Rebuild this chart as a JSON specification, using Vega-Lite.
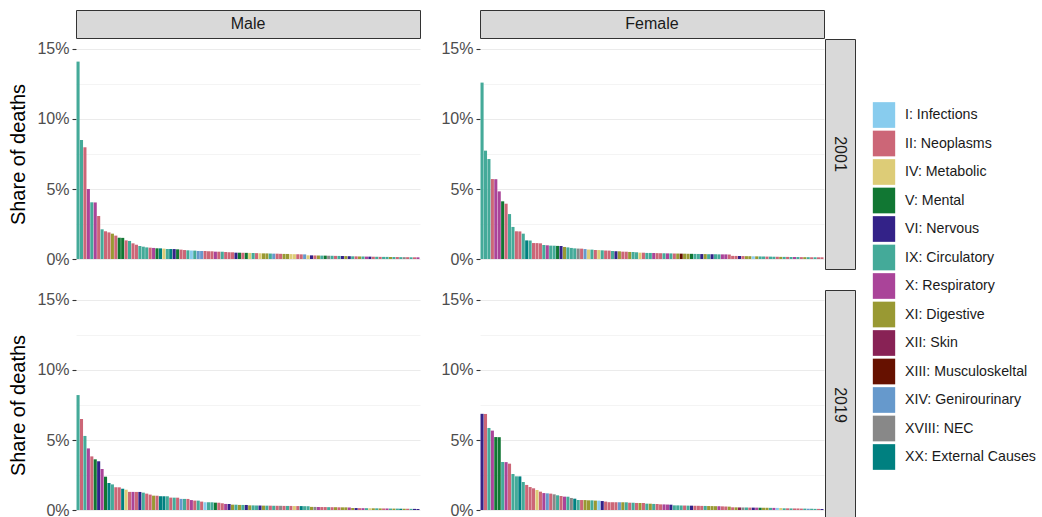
{
  "$schema": "https://vega.github.io/schema/vega-lite/v6.json",
  "autosize": {"type": "pad"},
  "padding": {"left": 8, "top": 9, "right": 0, "bottom": 0},
  "background": "white",
  "columns": 4,
  "spacing": 1,
  "bounds": "flush",
  "align": "each",
  "config": {
    "font": "Liberation Sans",
    "view": {"stroke": null},
    "legend": {
      "title": null,
      "orient": "none",
      "legendX": 795,
      "legendY": 92,
      "symbolType": "M-0.87,-1H0.87V1H-0.87Z",
      "symbolSize": 660,
      "symbolStrokeWidth": 0,
      "symbolOpacity": 1,
      "labelFontSize": 14.2,
      "labelColor": "#1A1A1A",
      "labelOffset": 8,
      "rowPadding": 2.5
    }
  },
  "datasets": {
    "chapters": [
      {"code": "I", "label": "I: Infections"},
      {"code": "II", "label": "II: Neoplasms"},
      {"code": "IV", "label": "IV: Metabolic"},
      {"code": "V", "label": "V: Mental"},
      {"code": "VI", "label": "VI: Nervous"},
      {"code": "IX", "label": "IX: Circulatory"},
      {"code": "X", "label": "X: Respiratory"},
      {"code": "XI", "label": "XI: Digestive"},
      {"code": "XII", "label": "XII: Skin"},
      {"code": "XIII", "label": "XIII: Musculoskeltal"},
      {"code": "XIV", "label": "XIV: Genirourinary"},
      {"code": "XVIII", "label": "XVIII: NEC"},
      {"code": "XX", "label": "XX: External Causes"}
    ],
    "m2001": [
      {"cause": 1, "chapter": "IX", "share": 14.1}, {"cause": 2, "chapter": "IX", "share": 8.5}, {"cause": 3, "chapter": "II", "share": 7.98}, {"cause": 4, "chapter": "X", "share": 5.0}, {"cause": 5, "chapter": "IX", "share": 4.05},
      {"cause": 6, "chapter": "X", "share": 4.04}, {"cause": 7, "chapter": "II", "share": 3.07}, {"cause": 8, "chapter": "IX", "share": 2.12}, {"cause": 9, "chapter": "II", "share": 1.98}, {"cause": 10, "chapter": "II", "share": 1.9},
      {"cause": 11, "chapter": "XI", "share": 1.81}, {"cause": 12, "chapter": "II", "share": 1.67}, {"cause": 13, "chapter": "V", "share": 1.52}, {"cause": 14, "chapter": "V", "share": 1.51}, {"cause": 15, "chapter": "II", "share": 1.33},
      {"cause": 16, "chapter": "IX", "share": 1.29}, {"cause": 17, "chapter": "II", "share": 1.12}, {"cause": 18, "chapter": "II", "share": 1.02}, {"cause": 19, "chapter": "IX", "share": 0.93}, {"cause": 20, "chapter": "IX", "share": 0.88},
      {"cause": 21, "chapter": "IX", "share": 0.83}, {"cause": 22, "chapter": "II", "share": 0.81}, {"cause": 23, "chapter": "X", "share": 0.79}, {"cause": 24, "chapter": "V", "share": 0.765}, {"cause": 25, "chapter": "XX", "share": 0.76},
      {"cause": 26, "chapter": "IV", "share": 0.74}, {"cause": 27, "chapter": "IX", "share": 0.715}, {"cause": 28, "chapter": "XX", "share": 0.712}, {"cause": 29, "chapter": "VI", "share": 0.71}, {"cause": 30, "chapter": "V", "share": 0.69},
      {"cause": 31, "chapter": "II", "share": 0.67}, {"cause": 32, "chapter": "II", "share": 0.64}, {"cause": 33, "chapter": "IX", "share": 0.62}, {"cause": 34, "chapter": "I", "share": 0.605}, {"cause": 35, "chapter": "IX", "share": 0.6},
      {"cause": 36, "chapter": "XIV", "share": 0.575}, {"cause": 37, "chapter": "XIV", "share": 0.573}, {"cause": 38, "chapter": "II", "share": 0.57}, {"cause": 39, "chapter": "II", "share": 0.553}, {"cause": 40, "chapter": "II", "share": 0.55},
      {"cause": 41, "chapter": "X", "share": 0.525}, {"cause": 42, "chapter": "II", "share": 0.522}, {"cause": 43, "chapter": "IX", "share": 0.52}, {"cause": 44, "chapter": "II", "share": 0.5}, {"cause": 45, "chapter": "II", "share": 0.483},
      {"cause": 46, "chapter": "II", "share": 0.48}, {"cause": 47, "chapter": "VI", "share": 0.453}, {"cause": 48, "chapter": "V", "share": 0.45}, {"cause": 49, "chapter": "II", "share": 0.443}, {"cause": 50, "chapter": "V", "share": 0.44},
      {"cause": 51, "chapter": "IV", "share": 0.433}, {"cause": 52, "chapter": "IX", "share": 0.43}, {"cause": 53, "chapter": "II", "share": 0.42}, {"cause": 54, "chapter": "IV", "share": 0.41}, {"cause": 55, "chapter": "XI", "share": 0.403},
      {"cause": 56, "chapter": "XI", "share": 0.4}, {"cause": 57, "chapter": "IX", "share": 0.39}, {"cause": 58, "chapter": "XIV", "share": 0.383}, {"cause": 59, "chapter": "II", "share": 0.38}, {"cause": 60, "chapter": "II", "share": 0.37},
      {"cause": 61, "chapter": "XI", "share": 0.363}, {"cause": 62, "chapter": "XI", "share": 0.36}, {"cause": 63, "chapter": "IV", "share": 0.35}, {"cause": 64, "chapter": "IV", "share": 0.343}, {"cause": 65, "chapter": "II", "share": 0.34},
      {"cause": 66, "chapter": "II", "share": 0.333}, {"cause": 67, "chapter": "XIV", "share": 0.33}, {"cause": 68, "chapter": "IV", "share": 0.263}, {"cause": 69, "chapter": "VI", "share": 0.26}, {"cause": 70, "chapter": "II", "share": 0.253},
      {"cause": 71, "chapter": "XI", "share": 0.25}, {"cause": 72, "chapter": "IX", "share": 0.243}, {"cause": 73, "chapter": "V", "share": 0.24}, {"cause": 74, "chapter": "XVIII", "share": 0.233}, {"cause": 75, "chapter": "IX", "share": 0.23},
      {"cause": 76, "chapter": "II", "share": 0.223}, {"cause": 77, "chapter": "IX", "share": 0.22}, {"cause": 78, "chapter": "VI", "share": 0.213}, {"cause": 79, "chapter": "XI", "share": 0.21}, {"cause": 80, "chapter": "VI", "share": 0.2},
      {"cause": 81, "chapter": "IX", "share": 0.193}, {"cause": 82, "chapter": "II", "share": 0.19}, {"cause": 83, "chapter": "XI", "share": 0.183}, {"cause": 84, "chapter": "IX", "share": 0.18}, {"cause": 85, "chapter": "X", "share": 0.173},
      {"cause": 86, "chapter": "VI", "share": 0.17}, {"cause": 87, "chapter": "II", "share": 0.163}, {"cause": 88, "chapter": "IX", "share": 0.16}, {"cause": 89, "chapter": "II", "share": 0.153}, {"cause": 90, "chapter": "IX", "share": 0.151},
      {"cause": 91, "chapter": "IX", "share": 0.15}, {"cause": 92, "chapter": "XI", "share": 0.143}, {"cause": 93, "chapter": "IX", "share": 0.141}, {"cause": 94, "chapter": "II", "share": 0.14}, {"cause": 95, "chapter": "IX", "share": 0.133},
      {"cause": 96, "chapter": "XVIII", "share": 0.131}, {"cause": 97, "chapter": "II", "share": 0.13}, {"cause": 98, "chapter": "IX", "share": 0.122}, {"cause": 99, "chapter": "II", "share": 0.121}, {"cause": 100, "chapter": "X", "share": 0.12}
    ],
    "f2001": [
      {"cause": 1, "chapter": "IX", "share": 12.6}, {"cause": 2, "chapter": "IX", "share": 7.74}, {"cause": 3, "chapter": "IX", "share": 7.14}, {"cause": 4, "chapter": "II", "share": 5.71}, {"cause": 5, "chapter": "X", "share": 5.7},
      {"cause": 6, "chapter": "X", "share": 4.83}, {"cause": 7, "chapter": "V", "share": 4.12}, {"cause": 8, "chapter": "II", "share": 3.95}, {"cause": 9, "chapter": "IX", "share": 3.21}, {"cause": 10, "chapter": "IX", "share": 2.29},
      {"cause": 11, "chapter": "II", "share": 1.98}, {"cause": 12, "chapter": "II", "share": 1.97}, {"cause": 13, "chapter": "IX", "share": 1.81}, {"cause": 14, "chapter": "XX", "share": 1.33}, {"cause": 15, "chapter": "IX", "share": 1.32},
      {"cause": 16, "chapter": "II", "share": 1.14}, {"cause": 17, "chapter": "II", "share": 1.135}, {"cause": 18, "chapter": "II", "share": 1.12}, {"cause": 19, "chapter": "IX", "share": 1.0}, {"cause": 20, "chapter": "X", "share": 0.98},
      {"cause": 21, "chapter": "IX", "share": 0.955}, {"cause": 22, "chapter": "IX", "share": 0.95}, {"cause": 23, "chapter": "V", "share": 0.935}, {"cause": 24, "chapter": "VI", "share": 0.93}, {"cause": 25, "chapter": "XI", "share": 0.86},
      {"cause": 26, "chapter": "IX", "share": 0.83}, {"cause": 27, "chapter": "IX", "share": 0.79}, {"cause": 28, "chapter": "IX", "share": 0.76}, {"cause": 29, "chapter": "XVIII", "share": 0.745}, {"cause": 30, "chapter": "II", "share": 0.74},
      {"cause": 31, "chapter": "XIV", "share": 0.71}, {"cause": 32, "chapter": "IV", "share": 0.675}, {"cause": 33, "chapter": "IX", "share": 0.67}, {"cause": 34, "chapter": "II", "share": 0.645}, {"cause": 35, "chapter": "IV", "share": 0.64},
      {"cause": 36, "chapter": "IX", "share": 0.62}, {"cause": 37, "chapter": "II", "share": 0.605}, {"cause": 38, "chapter": "II", "share": 0.6}, {"cause": 39, "chapter": "IX", "share": 0.57}, {"cause": 40, "chapter": "VI", "share": 0.555},
      {"cause": 41, "chapter": "XI", "share": 0.55}, {"cause": 42, "chapter": "II", "share": 0.525}, {"cause": 43, "chapter": "II", "share": 0.52}, {"cause": 44, "chapter": "XI", "share": 0.503}, {"cause": 45, "chapter": "IX", "share": 0.5},
      {"cause": 46, "chapter": "IX", "share": 0.48}, {"cause": 47, "chapter": "IV", "share": 0.453}, {"cause": 48, "chapter": "II", "share": 0.45}, {"cause": 49, "chapter": "IX", "share": 0.434}, {"cause": 50, "chapter": "IX", "share": 0.432},
      {"cause": 51, "chapter": "X", "share": 0.43}, {"cause": 52, "chapter": "II", "share": 0.42}, {"cause": 53, "chapter": "II", "share": 0.413}, {"cause": 54, "chapter": "IX", "share": 0.41}, {"cause": 55, "chapter": "X", "share": 0.403},
      {"cause": 56, "chapter": "IX", "share": 0.4}, {"cause": 57, "chapter": "II", "share": 0.393}, {"cause": 58, "chapter": "XI", "share": 0.39}, {"cause": 59, "chapter": "XIII", "share": 0.383}, {"cause": 60, "chapter": "XI", "share": 0.38},
      {"cause": 61, "chapter": "XI", "share": 0.373}, {"cause": 62, "chapter": "V", "share": 0.37}, {"cause": 63, "chapter": "IX", "share": 0.363}, {"cause": 64, "chapter": "IX", "share": 0.36}, {"cause": 65, "chapter": "VI", "share": 0.353},
      {"cause": 66, "chapter": "XI", "share": 0.35}, {"cause": 67, "chapter": "IX", "share": 0.343}, {"cause": 68, "chapter": "VI", "share": 0.341}, {"cause": 69, "chapter": "IX", "share": 0.34}, {"cause": 70, "chapter": "IX", "share": 0.333},
      {"cause": 71, "chapter": "X", "share": 0.331}, {"cause": 72, "chapter": "X", "share": 0.33}, {"cause": 73, "chapter": "II", "share": 0.32}, {"cause": 74, "chapter": "II", "share": 0.223}, {"cause": 75, "chapter": "II", "share": 0.22},
      {"cause": 76, "chapter": "VI", "share": 0.213}, {"cause": 77, "chapter": "II", "share": 0.21}, {"cause": 78, "chapter": "XI", "share": 0.203}, {"cause": 79, "chapter": "XI", "share": 0.2}, {"cause": 80, "chapter": "I", "share": 0.193},
      {"cause": 81, "chapter": "XI", "share": 0.19}, {"cause": 82, "chapter": "IX", "share": 0.183}, {"cause": 83, "chapter": "IX", "share": 0.18}, {"cause": 84, "chapter": "II", "share": 0.173}, {"cause": 85, "chapter": "IX", "share": 0.17},
      {"cause": 86, "chapter": "IX", "share": 0.163}, {"cause": 87, "chapter": "II", "share": 0.16}, {"cause": 88, "chapter": "XI", "share": 0.153}, {"cause": 89, "chapter": "IX", "share": 0.151}, {"cause": 90, "chapter": "II", "share": 0.15},
      {"cause": 91, "chapter": "IX", "share": 0.143}, {"cause": 92, "chapter": "X", "share": 0.141}, {"cause": 93, "chapter": "IX", "share": 0.14}, {"cause": 94, "chapter": "II", "share": 0.133}, {"cause": 95, "chapter": "XI", "share": 0.131},
      {"cause": 96, "chapter": "IX", "share": 0.13}, {"cause": 97, "chapter": "II", "share": 0.123}, {"cause": 98, "chapter": "IX", "share": 0.122}, {"cause": 99, "chapter": "II", "share": 0.121}, {"cause": 100, "chapter": "II", "share": 0.12}
    ],
    "m2019": [
      {"cause": 1, "chapter": "IX", "share": 8.21}, {"cause": 2, "chapter": "II", "share": 6.5}, {"cause": 3, "chapter": "IX", "share": 5.29}, {"cause": 4, "chapter": "X", "share": 4.4}, {"cause": 5, "chapter": "II", "share": 3.83},
      {"cause": 6, "chapter": "V", "share": 3.62}, {"cause": 7, "chapter": "VI", "share": 3.48}, {"cause": 8, "chapter": "X", "share": 2.93}, {"cause": 9, "chapter": "V", "share": 2.38}, {"cause": 10, "chapter": "XX", "share": 1.93},
      {"cause": 11, "chapter": "IX", "share": 1.83}, {"cause": 12, "chapter": "II", "share": 1.625}, {"cause": 13, "chapter": "II", "share": 1.62}, {"cause": 14, "chapter": "XX", "share": 1.52}, {"cause": 15, "chapter": "IV", "share": 1.45},
      {"cause": 16, "chapter": "II", "share": 1.295}, {"cause": 17, "chapter": "X", "share": 1.293}, {"cause": 18, "chapter": "II", "share": 1.291}, {"cause": 19, "chapter": "VI", "share": 1.29}, {"cause": 20, "chapter": "IX", "share": 1.24},
      {"cause": 21, "chapter": "II", "share": 1.17}, {"cause": 22, "chapter": "II", "share": 1.1}, {"cause": 23, "chapter": "XI", "share": 1.025}, {"cause": 24, "chapter": "II", "share": 1.02}, {"cause": 25, "chapter": "XX", "share": 0.985},
      {"cause": 26, "chapter": "XX", "share": 0.982}, {"cause": 27, "chapter": "IX", "share": 0.98}, {"cause": 28, "chapter": "II", "share": 0.885}, {"cause": 29, "chapter": "IX", "share": 0.882}, {"cause": 30, "chapter": "II", "share": 0.88},
      {"cause": 31, "chapter": "XIV", "share": 0.795}, {"cause": 32, "chapter": "IX", "share": 0.792}, {"cause": 33, "chapter": "II", "share": 0.79}, {"cause": 34, "chapter": "X", "share": 0.71}, {"cause": 35, "chapter": "II", "share": 0.672},
      {"cause": 36, "chapter": "IX", "share": 0.67}, {"cause": 37, "chapter": "II", "share": 0.6}, {"cause": 38, "chapter": "I", "share": 0.555}, {"cause": 39, "chapter": "IX", "share": 0.553}, {"cause": 40, "chapter": "IX", "share": 0.551},
      {"cause": 41, "chapter": "V", "share": 0.525}, {"cause": 42, "chapter": "II", "share": 0.52}, {"cause": 43, "chapter": "II", "share": 0.48}, {"cause": 44, "chapter": "X", "share": 0.433}, {"cause": 45, "chapter": "VI", "share": 0.43},
      {"cause": 46, "chapter": "XI", "share": 0.383}, {"cause": 47, "chapter": "IX", "share": 0.38}, {"cause": 48, "chapter": "XI", "share": 0.363}, {"cause": 49, "chapter": "IX", "share": 0.361}, {"cause": 50, "chapter": "VI", "share": 0.36},
      {"cause": 51, "chapter": "XI", "share": 0.333}, {"cause": 52, "chapter": "IX", "share": 0.33}, {"cause": 53, "chapter": "IX", "share": 0.323}, {"cause": 54, "chapter": "VI", "share": 0.32}, {"cause": 55, "chapter": "XI", "share": 0.313},
      {"cause": 56, "chapter": "IX", "share": 0.311}, {"cause": 57, "chapter": "II", "share": 0.31}, {"cause": 58, "chapter": "IX", "share": 0.303}, {"cause": 59, "chapter": "II", "share": 0.301}, {"cause": 60, "chapter": "XVIII", "share": 0.3},
      {"cause": 61, "chapter": "II", "share": 0.293}, {"cause": 62, "chapter": "IX", "share": 0.291}, {"cause": 63, "chapter": "II", "share": 0.29}, {"cause": 64, "chapter": "IV", "share": 0.283}, {"cause": 65, "chapter": "II", "share": 0.281},
      {"cause": 66, "chapter": "XX", "share": 0.28}, {"cause": 67, "chapter": "IX", "share": 0.273}, {"cause": 68, "chapter": "IX", "share": 0.27}, {"cause": 69, "chapter": "XI", "share": 0.223}, {"cause": 70, "chapter": "XVIII", "share": 0.22},
      {"cause": 71, "chapter": "X", "share": 0.213}, {"cause": 72, "chapter": "II", "share": 0.211}, {"cause": 73, "chapter": "II", "share": 0.21}, {"cause": 74, "chapter": "IX", "share": 0.203}, {"cause": 75, "chapter": "II", "share": 0.201},
      {"cause": 76, "chapter": "XI", "share": 0.2}, {"cause": 77, "chapter": "II", "share": 0.193}, {"cause": 78, "chapter": "XI", "share": 0.191}, {"cause": 79, "chapter": "XI", "share": 0.19}, {"cause": 80, "chapter": "X", "share": 0.18},
      {"cause": 81, "chapter": "XI", "share": 0.143}, {"cause": 82, "chapter": "VI", "share": 0.14}, {"cause": 83, "chapter": "II", "share": 0.133}, {"cause": 84, "chapter": "X", "share": 0.131}, {"cause": 85, "chapter": "IX", "share": 0.13},
      {"cause": 86, "chapter": "IV", "share": 0.123}, {"cause": 87, "chapter": "XI", "share": 0.121}, {"cause": 88, "chapter": "IX", "share": 0.12}, {"cause": 89, "chapter": "XI", "share": 0.113}, {"cause": 90, "chapter": "II", "share": 0.111},
      {"cause": 91, "chapter": "X", "share": 0.11}, {"cause": 92, "chapter": "IX", "share": 0.103}, {"cause": 93, "chapter": "XI", "share": 0.101}, {"cause": 94, "chapter": "IX", "share": 0.1}, {"cause": 95, "chapter": "XX", "share": 0.093},
      {"cause": 96, "chapter": "XI", "share": 0.091}, {"cause": 97, "chapter": "II", "share": 0.09}, {"cause": 98, "chapter": "IX", "share": 0.082}, {"cause": 99, "chapter": "VI", "share": 0.08}, {"cause": 100, "chapter": "VI", "share": 0.07}
    ],
    "f2019": [
      {"cause": 1, "chapter": "VI", "share": 6.87}, {"cause": 2, "chapter": "II", "share": 6.86}, {"cause": 3, "chapter": "IX", "share": 5.86}, {"cause": 4, "chapter": "X", "share": 5.67}, {"cause": 5, "chapter": "V", "share": 5.21},
      {"cause": 6, "chapter": "V", "share": 5.2}, {"cause": 7, "chapter": "IX", "share": 3.43}, {"cause": 8, "chapter": "X", "share": 3.42}, {"cause": 9, "chapter": "II", "share": 3.31}, {"cause": 10, "chapter": "IX", "share": 2.57},
      {"cause": 11, "chapter": "IX", "share": 2.405}, {"cause": 12, "chapter": "XX", "share": 2.4}, {"cause": 13, "chapter": "IX", "share": 2.0}, {"cause": 14, "chapter": "II", "share": 1.79}, {"cause": 15, "chapter": "II", "share": 1.64},
      {"cause": 16, "chapter": "II", "share": 1.55}, {"cause": 17, "chapter": "IV", "share": 1.43}, {"cause": 18, "chapter": "II", "share": 1.31}, {"cause": 19, "chapter": "X", "share": 1.21}, {"cause": 20, "chapter": "XIV", "share": 1.19},
      {"cause": 21, "chapter": "II", "share": 1.17}, {"cause": 22, "chapter": "XVIII", "share": 1.12}, {"cause": 23, "chapter": "IX", "share": 1.05}, {"cause": 24, "chapter": "II", "share": 1.0}, {"cause": 25, "chapter": "X", "share": 0.955},
      {"cause": 26, "chapter": "IX", "share": 0.95}, {"cause": 27, "chapter": "XVIII", "share": 0.86}, {"cause": 28, "chapter": "XX", "share": 0.81}, {"cause": 29, "chapter": "IX", "share": 0.715}, {"cause": 30, "chapter": "II", "share": 0.712},
      {"cause": 31, "chapter": "XI", "share": 0.71}, {"cause": 32, "chapter": "XI", "share": 0.692}, {"cause": 33, "chapter": "IX", "share": 0.69}, {"cause": 34, "chapter": "XI", "share": 0.672}, {"cause": 35, "chapter": "I", "share": 0.67},
      {"cause": 36, "chapter": "VI", "share": 0.64}, {"cause": 37, "chapter": "II", "share": 0.6}, {"cause": 38, "chapter": "II", "share": 0.557}, {"cause": 39, "chapter": "II", "share": 0.556}, {"cause": 40, "chapter": "II", "share": 0.555},
      {"cause": 41, "chapter": "XIV", "share": 0.554}, {"cause": 42, "chapter": "XI", "share": 0.553}, {"cause": 43, "chapter": "IX", "share": 0.55}, {"cause": 44, "chapter": "II", "share": 0.522}, {"cause": 45, "chapter": "IX", "share": 0.52},
      {"cause": 46, "chapter": "II", "share": 0.503}, {"cause": 47, "chapter": "XI", "share": 0.501}, {"cause": 48, "chapter": "II", "share": 0.5}, {"cause": 49, "chapter": "IX", "share": 0.453}, {"cause": 50, "chapter": "XI", "share": 0.45},
      {"cause": 51, "chapter": "IX", "share": 0.433}, {"cause": 52, "chapter": "II", "share": 0.43}, {"cause": 53, "chapter": "II", "share": 0.403}, {"cause": 54, "chapter": "X", "share": 0.4}, {"cause": 55, "chapter": "X", "share": 0.39},
      {"cause": 56, "chapter": "VI", "share": 0.38}, {"cause": 57, "chapter": "IX", "share": 0.333}, {"cause": 58, "chapter": "IX", "share": 0.331}, {"cause": 59, "chapter": "IX", "share": 0.323}, {"cause": 60, "chapter": "II", "share": 0.32},
      {"cause": 61, "chapter": "IX", "share": 0.313}, {"cause": 62, "chapter": "VI", "share": 0.31}, {"cause": 63, "chapter": "II", "share": 0.303}, {"cause": 64, "chapter": "II", "share": 0.3}, {"cause": 65, "chapter": "II", "share": 0.293},
      {"cause": 66, "chapter": "IX", "share": 0.29}, {"cause": 67, "chapter": "XI", "share": 0.283}, {"cause": 68, "chapter": "XI", "share": 0.28}, {"cause": 69, "chapter": "XI", "share": 0.273}, {"cause": 70, "chapter": "X", "share": 0.27},
      {"cause": 71, "chapter": "II", "share": 0.26}, {"cause": 72, "chapter": "II", "share": 0.25}, {"cause": 73, "chapter": "XI", "share": 0.24}, {"cause": 74, "chapter": "II", "share": 0.193}, {"cause": 75, "chapter": "XI", "share": 0.19},
      {"cause": 76, "chapter": "XII", "share": 0.183}, {"cause": 77, "chapter": "XVIII", "share": 0.181}, {"cause": 78, "chapter": "IX", "share": 0.18}, {"cause": 79, "chapter": "II", "share": 0.173}, {"cause": 80, "chapter": "VI", "share": 0.171},
      {"cause": 81, "chapter": "X", "share": 0.17}, {"cause": 82, "chapter": "V", "share": 0.163}, {"cause": 83, "chapter": "XI", "share": 0.161}, {"cause": 84, "chapter": "XI", "share": 0.16}, {"cause": 85, "chapter": "IX", "share": 0.153},
      {"cause": 86, "chapter": "X", "share": 0.151}, {"cause": 87, "chapter": "I", "share": 0.15}, {"cause": 88, "chapter": "IV", "share": 0.14}, {"cause": 89, "chapter": "IX", "share": 0.12}, {"cause": 90, "chapter": "II", "share": 0.119},
      {"cause": 91, "chapter": "IX", "share": 0.113}, {"cause": 92, "chapter": "II", "share": 0.111}, {"cause": 93, "chapter": "II", "share": 0.11}, {"cause": 94, "chapter": "II", "share": 0.101}, {"cause": 95, "chapter": "IX", "share": 0.1},
      {"cause": 96, "chapter": "XIV", "share": 0.091}, {"cause": 97, "chapter": "IX", "share": 0.09}, {"cause": 98, "chapter": "IX", "share": 0.081}, {"cause": 99, "chapter": "II", "share": 0.08}, {"cause": 100, "chapter": "VI", "share": 0.07}
    ]
  },
  "concat": [
    {"width": 344, "height": 28, "view": {"fill": "#D9D9D9", "stroke": "#333333", "strokeWidth": 1},
     "data": {"values": [{"t": "Male"}]},
     "mark": {"type": "text", "fontSize": 16, "color": "#1A1A1A"},
     "encoding": {"text": {"field": "t", "type": "nominal"}}},
    {"width": 58, "height": 1, "data": {"values": [{}]}, "mark": {"type": "point", "opacity": 0, "size": 0, "strokeWidth": 0}, "encoding": {}},
    {"width": 344, "height": 28, "view": {"fill": "#D9D9D9", "stroke": "#333333", "strokeWidth": 1},
     "data": {"values": [{"t": "Female"}]},
     "mark": {"type": "text", "fontSize": 16, "color": "#1A1A1A"},
     "encoding": {"text": {"field": "t", "type": "nominal"}}},
    {"width": 30, "height": 1, "data": {"values": [{}]}, "mark": {"type": "point", "opacity": 0, "size": 0, "strokeWidth": 0}, "encoding": {}},

    {"width": 344, "height": 230, "data": {"name": "m2001"},
     "transform": [{"lookup": "chapter", "from": {"data": {"name": "chapters"}, "key": "code", "fields": ["label"]}}],
     "mark": {"type": "bar"},
     "encoding": {
       "x": {"field": "cause", "type": "nominal", "sort": "-y", "axis": null, "scale": {"paddingInner": 0.1, "paddingOuter": 0.15}},
       "y": {"field": "share", "type": "quantitative", "scale": {"domain": [-0.714, 15.714], "nice": false, "zero": false},
             "axis": {"values": [0, 2.5, 5, 7.5, 10, 12.5, 15], "labelExpr": "datum.value % 5 == 0 ? datum.value + '%' : ''",
                      "title": "Share of deaths", "titleFontSize": 20, "titleFontWeight": "normal", "titleColor": "#000000", "titlePadding": 8,
                      "grid": true, "gridColor": "#EBEBEB", "gridWidth": {"condition": {"test": "datum.value % 5 == 0", "value": 1.1}, "value": 0.55},
                      "tickOpacity": {"condition": {"test": "datum.value % 5 == 0", "value": 1}, "value": 0},
                      "domain": false, "tickColor": "#333333", "tickSize": 4, "tickWidth": 1.1,
                      "labelColor": "#4D4D4D", "labelFontSize": 16, "labelPadding": 3}},
       "color": {"field": "label", "type": "nominal",
                 "scale": {"domain": ["I: Infections", "II: Neoplasms", "IV: Metabolic", "V: Mental", "VI: Nervous", "IX: Circulatory", "X: Respiratory", "XI: Digestive", "XII: Skin", "XIII: Musculoskeltal", "XIV: Genirourinary", "XVIII: NEC", "XX: External Causes"],
                           "range": ["#88CCEE", "#CC6677", "#DDCC77", "#117733", "#332288", "#44AA99", "#AA4499", "#999933", "#882255", "#661100", "#6699CC", "#888888", "#008080"]}}
     }},
    {"width": 58, "height": 1, "data": {"values": [{}]}, "mark": {"type": "point", "opacity": 0, "size": 0, "strokeWidth": 0}, "encoding": {}},
    {"width": 344, "height": 230, "data": {"name": "f2001"},
     "transform": [{"lookup": "chapter", "from": {"data": {"name": "chapters"}, "key": "code", "fields": ["label"]}}],
     "mark": {"type": "bar"},
     "encoding": {
       "x": {"field": "cause", "type": "nominal", "sort": "-y", "axis": null, "scale": {"paddingInner": 0.1, "paddingOuter": 0.15}},
       "y": {"field": "share", "type": "quantitative", "scale": {"domain": [-0.714, 15.714], "nice": false, "zero": false},
             "axis": {"values": [0, 2.5, 5, 7.5, 10, 12.5, 15], "labelExpr": "datum.value % 5 == 0 ? datum.value + '%' : ''",
                      "title": null,
                      "grid": true, "gridColor": "#EBEBEB", "gridWidth": {"condition": {"test": "datum.value % 5 == 0", "value": 1.1}, "value": 0.55},
                      "tickOpacity": {"condition": {"test": "datum.value % 5 == 0", "value": 1}, "value": 0},
                      "domain": false, "tickColor": "#333333", "tickSize": 4, "tickWidth": 1.1,
                      "labelColor": "#4D4D4D", "labelFontSize": 16, "labelPadding": 3}},
       "color": {"field": "label", "type": "nominal"}
     }},
    {"width": 30, "height": 230, "view": {"fill": "#D9D9D9", "stroke": "#333333", "strokeWidth": 1},
     "data": {"values": [{"t": "2001"}]},
     "mark": {"type": "text", "fontSize": 16, "angle": 90, "color": "#1A1A1A"},
     "encoding": {"text": {"field": "t", "type": "nominal"}}},

    {"width": 1, "height": 19, "data": {"values": [{}]}, "mark": {"type": "point", "opacity": 0, "size": 0, "strokeWidth": 0}, "encoding": {}},
    {"width": 1, "height": 1, "data": {"values": [{}]}, "mark": {"type": "point", "opacity": 0, "size": 0, "strokeWidth": 0}, "encoding": {}},
    {"width": 1, "height": 1, "data": {"values": [{}]}, "mark": {"type": "point", "opacity": 0, "size": 0, "strokeWidth": 0}, "encoding": {}},
    {"width": 1, "height": 1, "data": {"values": [{}]}, "mark": {"type": "point", "opacity": 0, "size": 0, "strokeWidth": 0}, "encoding": {}},

    {"width": 344, "height": 230, "data": {"name": "m2019"},
     "transform": [{"lookup": "chapter", "from": {"data": {"name": "chapters"}, "key": "code", "fields": ["label"]}}],
     "mark": {"type": "bar"},
     "encoding": {
       "x": {"field": "cause", "type": "nominal", "sort": "-y", "axis": null, "scale": {"paddingInner": 0.1, "paddingOuter": 0.15}},
       "y": {"field": "share", "type": "quantitative", "scale": {"domain": [-0.714, 15.714], "nice": false, "zero": false},
             "axis": {"values": [0, 2.5, 5, 7.5, 10, 12.5, 15], "labelExpr": "datum.value % 5 == 0 ? datum.value + '%' : ''",
                      "title": "Share of deaths", "titleFontSize": 20, "titleFontWeight": "normal", "titleColor": "#000000", "titlePadding": 8,
                      "grid": true, "gridColor": "#EBEBEB", "gridWidth": {"condition": {"test": "datum.value % 5 == 0", "value": 1.1}, "value": 0.55},
                      "tickOpacity": {"condition": {"test": "datum.value % 5 == 0", "value": 1}, "value": 0},
                      "domain": false, "tickColor": "#333333", "tickSize": 4, "tickWidth": 1.1,
                      "labelColor": "#4D4D4D", "labelFontSize": 16, "labelPadding": 3}},
       "color": {"field": "label", "type": "nominal"}
     }},
    {"width": 58, "height": 1, "data": {"values": [{}]}, "mark": {"type": "point", "opacity": 0, "size": 0, "strokeWidth": 0}, "encoding": {}},
    {"width": 344, "height": 230, "data": {"name": "f2019"},
     "transform": [{"lookup": "chapter", "from": {"data": {"name": "chapters"}, "key": "code", "fields": ["label"]}}],
     "mark": {"type": "bar"},
     "encoding": {
       "x": {"field": "cause", "type": "nominal", "sort": "-y", "axis": null, "scale": {"paddingInner": 0.1, "paddingOuter": 0.15}},
       "y": {"field": "share", "type": "quantitative", "scale": {"domain": [-0.714, 15.714], "nice": false, "zero": false},
             "axis": {"values": [0, 2.5, 5, 7.5, 10, 12.5, 15], "labelExpr": "datum.value % 5 == 0 ? datum.value + '%' : ''",
                      "title": null,
                      "grid": true, "gridColor": "#EBEBEB", "gridWidth": {"condition": {"test": "datum.value % 5 == 0", "value": 1.1}, "value": 0.55},
                      "tickOpacity": {"condition": {"test": "datum.value % 5 == 0", "value": 1}, "value": 0},
                      "domain": false, "tickColor": "#333333", "tickSize": 4, "tickWidth": 1.1,
                      "labelColor": "#4D4D4D", "labelFontSize": 16, "labelPadding": 3}},
       "color": {"field": "label", "type": "nominal"}
     }},
    {"width": 30, "height": 230, "view": {"fill": "#D9D9D9", "stroke": "#333333", "strokeWidth": 1},
     "data": {"values": [{"t": "2019"}]},
     "mark": {"type": "text", "fontSize": 16, "angle": 90, "color": "#1A1A1A"},
     "encoding": {"text": {"field": "t", "type": "nominal"}}}
  ]
}
